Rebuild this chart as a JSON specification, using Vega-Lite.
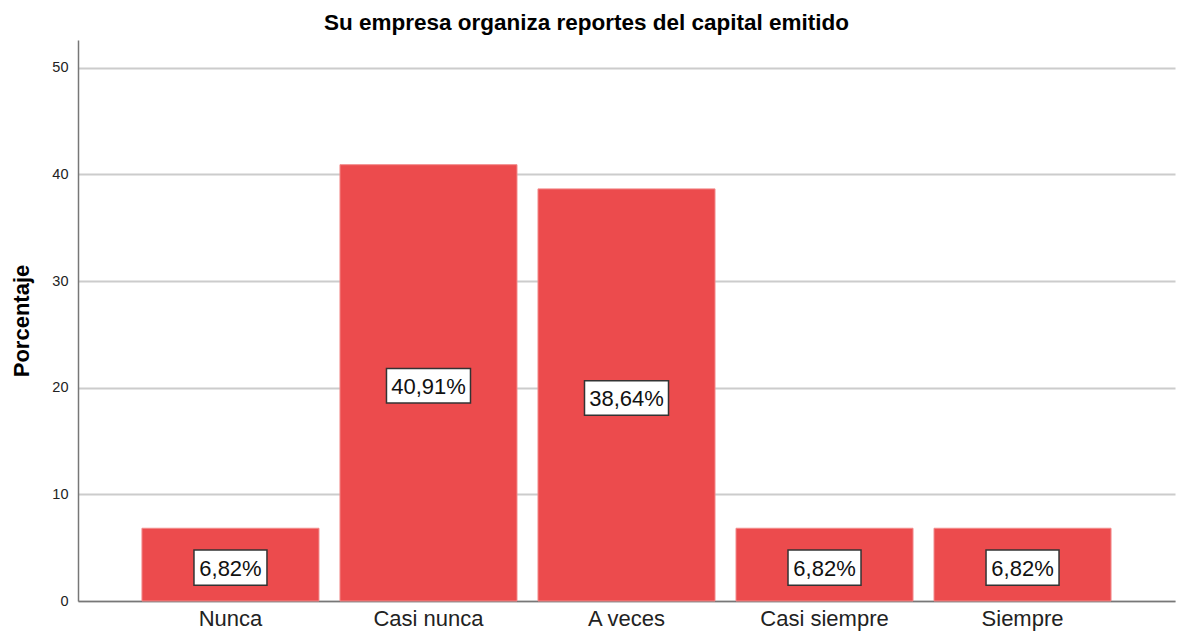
{
  "$schema": "https://vega.github.io/schema/vega-lite/v6.json",
  "width": 1097,
  "height": 561,
  "autosize": {"type": "none"},
  "padding": {"left": 78, "top": 40, "right": 4, "bottom": 34},
  "background": "white",
  "config": {"view": {"stroke": null}, "font": "Liberation Sans"},
  "title": {"text": "Su empresa organiza reportes del capital emitido", "fontSize": 22.5, "fontWeight": "bold", "color": "#000", "anchor": "middle", "dx": -40, "offset": 6, "font": "Liberation Sans"},
  "data": {"values": [
    {"cat": "Nunca", "pct": 6.82, "label": "6,82%"},
    {"cat": "Casi nunca", "pct": 40.91, "label": "40,91%"},
    {"cat": "A veces", "pct": 38.64, "label": "38,64%"},
    {"cat": "Casi siempre", "pct": 6.82, "label": "6,82%"},
    {"cat": "Siempre", "pct": 6.82, "label": "6,82%"}
  ]},
  "transform": [{"calculate": "datum.pct / 2", "as": "mid"}],
  "encoding": {
    "x": {"field": "cat", "type": "nominal", "sort": null,
      "scale": {"paddingInner": 0.106, "paddingOuter": 0.323},
      "axis": {"title": null, "labelAngle": 0, "labelFontSize": 22, "labelColor": "#222", "labelPadding": 7, "ticks": false, "domainColor": "#777", "domainWidth": 1.5, "grid": false}}
  },
  "layer": [
    {
      "mark": {"type": "bar", "color": "#EC4B4D", "stroke": "#F28A8B", "strokeWidth": 1},
      "encoding": {
        "y": {"field": "pct", "type": "quantitative",
          "scale": {"domain": [0, 52.6], "nice": false, "zero": true},
          "axis": {"title": "Porcentaje", "titleFontSize": 22, "titleFontWeight": "bold", "titleColor": "#000", "titlePadding": 18, "values": [0, 10, 20, 30, 40, 50], "labelFontSize": 14.5, "labelColor": "#222", "labelPadding": 10, "ticks": false, "domainColor": "#777", "domainWidth": 1.5, "grid": true, "gridColor": "#cccccc", "gridWidth": 2}}
      }
    },
    {
      "transform": [{"filter": "datum.pct >= 10"}],
      "mark": {"type": "point", "shape": "M-1,-0.41L1,-0.41L1,0.41L-1,0.41Z", "filled": true, "fill": "white", "stroke": "#333", "strokeWidth": 1.5, "opacity": 1, "size": 7056, "yOffset": 3},
      "encoding": {"y": {"field": "mid", "type": "quantitative"}}
    },
    {
      "transform": [{"filter": "datum.pct < 10"}],
      "mark": {"type": "point", "shape": "M-1,-0.48L1,-0.48L1,0.48L-1,0.48Z", "filled": true, "fill": "white", "stroke": "#333", "strokeWidth": 1.5, "opacity": 1, "size": 5329, "yOffset": 3},
      "encoding": {"y": {"field": "mid", "type": "quantitative"}}
    },
    {
      "mark": {"type": "text", "fontSize": 22, "color": "#111", "baseline": "middle", "align": "center", "dy": 4},
      "encoding": {"y": {"field": "mid", "type": "quantitative"}, "text": {"field": "label"}}
    }
  ]
}
